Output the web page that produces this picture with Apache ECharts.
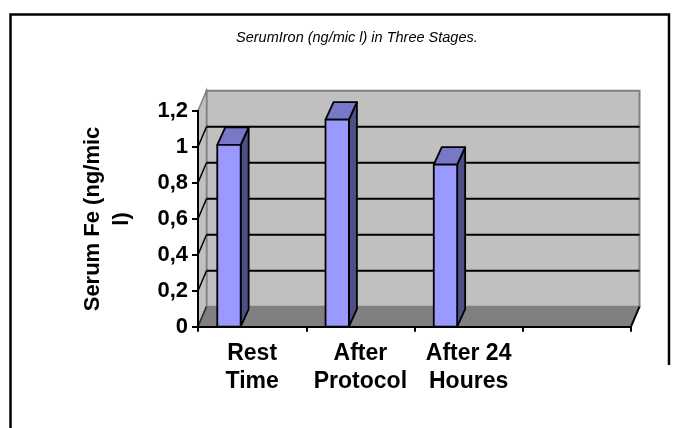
<!DOCTYPE html>
<html>
<head>
<meta charset="utf-8">
<script src="https://cdn.jsdelivr.net/npm/echarts@6/dist/echarts.min.js"></script>
<style>
html,body{margin:0;padding:0;background:#fff;}
#chart{width:689px;height:428px;}
</style>
</head>
<body>
<div id="chart"></div>
<script>
const categories = ['Rest\nTime', 'After\nProtocol', 'After 24\nHoures', ''];
const serumFe = [1.01, 1.15, 0.90];
const yTicks = [0, 0.2, 0.4, 0.6, 0.8, 1.0, 1.2];
const chartTitle = 'SerumIron (ng/mic l) in Three Stages.';
const yTitle = 'Serum Fe (ng/mic\nl)';

const FONT = '"Liberation Sans", Arial, sans-serif';
const DX = 8.5, DY = -20;      // wall depth offset
const BDX = 8, BDY = -17.5;    // bar depth offset

const chart = echarts.init(document.getElementById('chart'), null, {renderer: 'canvas'});

function renderFrame(params, api) {
  const y0 = api.coord([0, 0])[1];
  const yMax = api.coord([0, yTicks[yTicks.length - 1]])[1];
  const band = api.size([1, 0])[0];
  const xL = api.coord([0, 0])[0] - band / 2;
  const xR = api.coord([categories.length - 1, 0])[0] + band / 2;
  const children = [];
  children.push({type: 'polygon', shape: {points: [[xL + DX, yMax + DY], [xR + DX, yMax + DY], [xR + DX, y0 + DY], [xL + DX, y0 + DY]]},
    style: {fill: '#C0C0C0', stroke: '#808080', lineWidth: 2}});
  children.push({type: 'polygon', shape: {points: [[xL, y0], [xL, yMax], [xL + DX, yMax + DY], [xL + DX, y0 + DY]]},
    style: {fill: '#C0C0C0', stroke: '#808080', lineWidth: 1.5}});
  yTicks.forEach(function (v, k) {
    const y = api.coord([0, v])[1];
    if (k > 0 && k < yTicks.length - 1) {
      children.push({type: 'line', shape: {x1: xL + DX, y1: y + DY, x2: xR + DX, y2: y + DY}, style: {stroke: '#000', lineWidth: 2}});
    }
    if (k < yTicks.length - 1) {
      children.push({type: 'line', shape: {x1: xL, y1: y, x2: xL + DX, y2: y + DY}, style: {stroke: '#000', lineWidth: 1.5}});
    }
  });
  children.push({type: 'polygon', shape: {points: [[xL, y0], [xR, y0], [xR + DX, y0 + DY], [xL + DX, y0 + DY]]},
    style: {fill: '#808080', stroke: null}});
  children.push({type: 'line', shape: {x1: xR, y1: y0, x2: xR + DX, y2: y0 + DY}, style: {stroke: '#000', lineWidth: 2}});
  children.push({type: 'line', shape: {x1: xL, y1: y0, x2: xL + DX, y2: y0 + DY}, style: {stroke: '#333', lineWidth: 1.5}});
  return {type: 'group', children: children};
}

function renderBar(params, api) {
  const i = api.value(0), v = api.value(1);
  const band = api.size([1, 0])[0];
  const base = api.coord([i, 0]);
  const top = api.coord([i, v]);
  const left = base[0] - band / 2 + band * 0.178;
  const right = left + band * 0.216;
  const yt = top[1], yb = base[1];
  const st = {stroke: '#000', lineWidth: 1.8, lineJoin: 'round'};
  return {type: 'group', children: [
    {type: 'polygon', shape: {points: [[right, yt], [right + BDX, yt + BDY], [right + BDX, yb + BDY], [right, yb]]},
      style: Object.assign({fill: '#4E4E88'}, st)},
    {type: 'polygon', shape: {points: [[left, yt], [right, yt], [right + BDX, yt + BDY], [left + BDX, yt + BDY]]},
      style: Object.assign({fill: '#7878C8'}, st)},
    {type: 'rect', shape: {x: left, y: yt, width: right - left, height: yb - yt},
      style: Object.assign({fill: '#9999FF'}, st)}
  ]};
}

const option = {
  backgroundColor: '#fff',
  animation: false,
  title: {
    text: chartTitle, left: 231, top: 25,
    textStyle: {fontFamily: FONT, fontSize: 14.5, fontStyle: 'italic', fontWeight: 'normal', color: '#000'}
  },
  grid: {left: 198, top: 110.7, width: 433, height: 216, containLabel: false},
  xAxis: {
    type: 'category', data: categories, boundaryGap: true, z: 10,
    axisLine: {lineStyle: {color: '#000', width: 2}},
    axisTick: {show: true, length: 5, lineStyle: {color: '#000', width: 2}},
    axisLabel: {fontFamily: FONT, fontSize: 23, fontWeight: 'bold', color: '#000', margin: 13, lineHeight: 28, interval: 0},
    splitLine: {show: false}
  },
  yAxis: {
    type: 'value', min: 0, max: 1.2, interval: 0.2, z: 10,
    axisLine: {show: true, lineStyle: {color: '#000', width: 2}},
    axisTick: {show: true, length: 6, lineStyle: {color: '#000', width: 2}},
    axisLabel: {fontFamily: FONT, fontSize: 22, fontWeight: 'bold', color: '#000', margin: 10,
      formatter: function (v) { return String(Math.round(v * 10) / 10).replace('.', ','); }},
    splitLine: {show: false}
  },
  series: [
    {type: 'custom', name: 'frame', renderItem: renderFrame, data: [[0, 0]], z: 1, clip: false, silent: true},
    {type: 'custom', name: 'Serum Fe', renderItem: renderBar, data: serumFe.map(function (v, i) { return [i, v]; }), z: 3, clip: false}
  ],
  graphic: [
    {type: 'polyline', shape: {points: [[10.5, 440], [10.5, 14.5], [669, 14.5], [669, 365]]},
      style: {stroke: '#000', lineWidth: 2.5, fill: null}, z: 0},
    {type: 'text', x: 107.5, y: 219, rotation: Math.PI / 2,
      style: {text: yTitle, fontFamily: FONT, fontSize: 22, fontWeight: 'bold', fill: '#000',
        align: 'center', verticalAlign: 'middle', lineHeight: 29}}
  ]
};
chart.setOption(option);
</script>
</body>
</html>
